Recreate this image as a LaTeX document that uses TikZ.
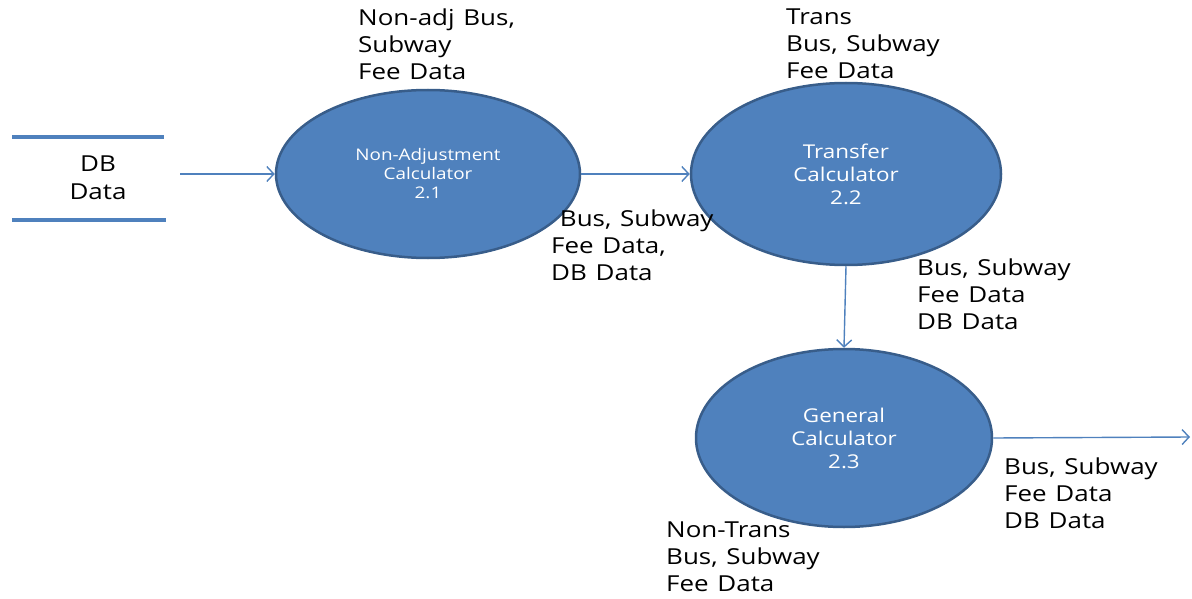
\documentclass[tikz,border=0pt]{standalone}
\usepackage{fontspec}
\setmainfont{Open Sans}[FakeStretch=1.18,WordSpace=1.3]
\usetikzlibrary{arrows.meta,shapes.geometric}
\definecolor{fillblue}{HTML}{4F81BD}
\definecolor{edgeblue}{HTML}{385D8A}
\begin{document}
\begin{tikzpicture}[x=1pt,y=-1pt,
 proc/.style={ellipse, draw=edgeblue, line width=2.5pt, fill=fillblue, inner sep=0pt, text=white, align=center},
 flow/.style={draw=fillblue, line width=1.4pt, -{Straight Barb[length=7pt,width=15pt]}},
 lbl/.style={anchor=north west, inner sep=0pt, align=left, font=\fontsize{22}{27}\selectfont},
 storeline/.style={draw=fillblue, line width=4pt},
]
\useasboundingbox (0,0) rectangle (1192,599);
% data store
\draw[storeline] (12,137) -- (164,137);
\draw[storeline] (12,220) -- (166,220);
\node[inner sep=0pt, minimum width=154pt, align=center, font=\fontsize{22}{28}\selectfont] (store) at (98,178) {DB\\Data};
% processes
\node[proc, minimum width=304pt, minimum height=168pt, font=\fontsize{16}{19}\selectfont] (p1) at (428,174) {Non-Adjustment\\Calculator\\2.1};
\node[proc, minimum width=310pt, minimum height=182pt, font=\fontsize{19}{23}\selectfont] (p2) at (846,174) {Transfer\\Calculator\\2.2};
\node[proc, minimum width=296pt, minimum height=178pt, font=\fontsize{19}{23}\selectfont] (p3) at (844,438) {General\\Calculator\\2.3};
\coordinate (storeout) at (180,174);
\coordinate (out) at (1190,437);
% flows
\draw[flow] (storeout) -- (p1.west);
\draw[flow] (p1.east) -- (p2.west);
\draw[flow] (p2.south) -- (p3.north);
\draw[flow] (p3.east) -- (out);
% labels
\node[lbl] (l1) at (358,9) {Non-adj Bus,\\Subway\\Fee Data};
\node[lbl] (l2) at (786,9) {Trans\\Bus, Subway\\Fee Data};
\node[lbl] (l3) at (551,210) {\ Bus, Subway\\Fee Data,\\DB Data};
\node[lbl] (l4) at (917,259) {Bus, Subway\\Fee Data\\DB Data};
\node[lbl] (l5) at (1004,458) {Bus, Subway\\Fee Data\\DB Data};
\node[lbl] (l6) at (666,522) {Non-Trans\\Bus, Subway\\Fee Data};
\end{tikzpicture}
\end{document}
